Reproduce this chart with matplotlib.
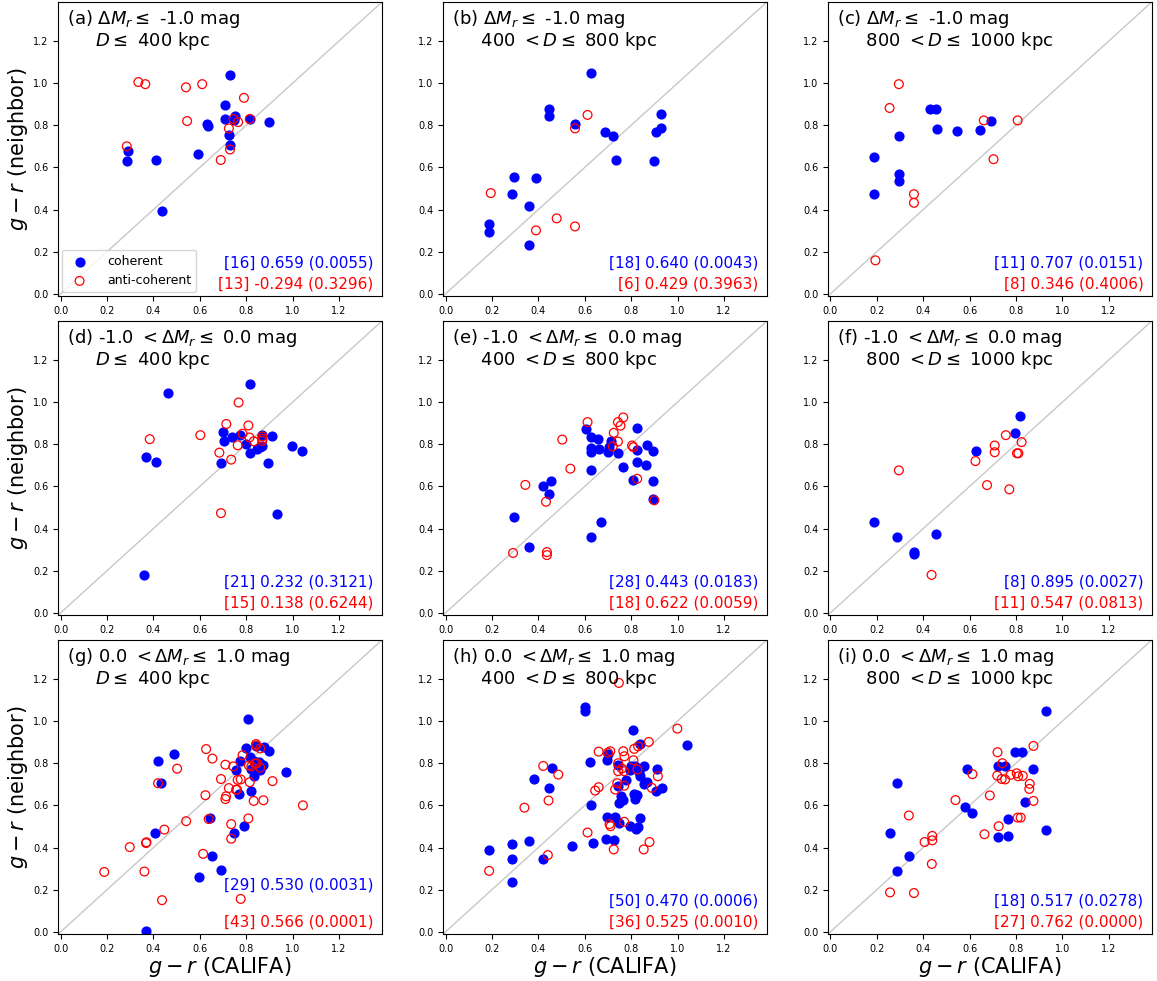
import matplotlib
matplotlib.use('Agg')
import matplotlib.pyplot as plt
import numpy as np

# g-r colour pairs (CALIFA, neighbor), one list per panel and class
a_coh = [(0.73, 1.04), (0.71, 0.895), (0.71, 0.83), (0.75, 0.845), (0.745, 0.825),
         (0.815, 0.83), (0.90, 0.815), (0.63, 0.805), (0.635, 0.795), (0.725, 0.755),
         (0.73, 0.705), (0.59, 0.665), (0.29, 0.68), (0.285, 0.63), (0.41, 0.635),
         (0.435, 0.395)]
a_anti = [(0.335, 1.005), (0.365, 0.995), (0.54, 0.98), (0.61, 0.995), (0.79, 0.93),
          (0.545, 0.82), (0.745, 0.83), (0.765, 0.815), (0.815, 0.83), (0.725, 0.785),
          (0.73, 0.685), (0.69, 0.635), (0.285, 0.70)]

b_coh = [(0.625, 1.049), (0.444, 0.877), (0.447, 0.846), (0.559, 0.804), (0.688, 0.767),
         (0.72, 0.747), (0.734, 0.637), (0.897, 0.631), (0.93, 0.855), (0.93, 0.788),
         (0.907, 0.767), (0.295, 0.556), (0.39, 0.548), (0.287, 0.476), (0.361, 0.417),
         (0.188, 0.333), (0.186, 0.293), (0.361, 0.231)]
b_anti = [(0.612, 0.849), (0.558, 0.785), (0.195, 0.478), (0.479, 0.358), (0.39, 0.301),
          (0.558, 0.32)]

c_coh = [(0.43, 0.879), (0.455, 0.876), (0.459, 0.78), (0.545, 0.771), (0.645, 0.779),
         (0.691, 0.82), (0.295, 0.748), (0.186, 0.651), (0.295, 0.567), (0.295, 0.537),
         (0.186, 0.475)]
c_anti = [(0.295, 0.995), (0.255, 0.882), (0.661, 0.823), (0.807, 0.823), (0.703, 0.639),
          (0.36, 0.473), (0.36, 0.432), (0.194, 0.159)]

d_coh = [(0.814, 1.088), (0.462, 1.041), (0.368, 0.738), (0.409, 0.714), (0.361, 0.18),
         (0.70, 0.859), (0.705, 0.816), (0.691, 0.711), (0.738, 0.832), (0.771, 0.846),
         (0.799, 0.803), (0.814, 0.759), (0.913, 0.84), (0.869, 0.846), (0.869, 0.79),
         (0.846, 0.778), (0.895, 0.712), (0.999, 0.79), (1.041, 0.767), (0.932, 0.469),
         (0.86, 0.785)]
d_anti = [(0.767, 0.998), (0.714, 0.896), (0.809, 0.889), (0.602, 0.843), (0.384, 0.824),
          (0.784, 0.85), (0.814, 0.832), (0.832, 0.814), (0.869, 0.837), (0.869, 0.816),
          (0.763, 0.795), (0.684, 0.76), (0.735, 0.727), (0.691, 0.473), (0.87, 0.826)]

e_coh = [(0.606, 0.873), (0.625, 0.833), (0.659, 0.827), (0.625, 0.781), (0.625, 0.765),
         (0.662, 0.776), (0.625, 0.677), (0.711, 0.813), (0.705, 0.789), (0.70, 0.763),
         (0.743, 0.759), (0.766, 0.693), (0.826, 0.878), (0.826, 0.773), (0.826, 0.714),
         (0.809, 0.628), (0.87, 0.794), (0.863, 0.70), (0.896, 0.768), (0.896, 0.625),
         (0.896, 0.542), (0.421, 0.604), (0.456, 0.625), (0.444, 0.563), (0.295, 0.456),
         (0.361, 0.312), (0.628, 0.362), (0.671, 0.432)]
e_anti = [(0.612, 0.905), (0.743, 0.905), (0.766, 0.927), (0.754, 0.888), (0.725, 0.854),
          (0.743, 0.813), (0.721, 0.79), (0.804, 0.794), (0.809, 0.786), (0.503, 0.822),
          (0.538, 0.684), (0.344, 0.607), (0.433, 0.527), (0.291, 0.284), (0.437, 0.288),
          (0.437, 0.274), (0.826, 0.636), (0.90, 0.534)]

f_coh = [(0.819, 0.932), (0.796, 0.853), (0.627, 0.77), (0.186, 0.429), (0.287, 0.36),
         (0.457, 0.373), (0.36, 0.287), (0.36, 0.277)]
f_anti = [(0.756, 0.843), (0.824, 0.81), (0.708, 0.794), (0.708, 0.762), (0.804, 0.757),
          (0.81, 0.757), (0.625, 0.72), (0.675, 0.606), (0.771, 0.586), (0.295, 0.676),
          (0.436, 0.18)]

g_coh = [(0.809, 1.012), (0.799, 0.872), (0.843, 0.884), (0.877, 0.876), (0.899, 0.86),
         (0.774, 0.811), (0.814, 0.83), (0.832, 0.811), (0.853, 0.806), (0.846, 0.782),
         (0.82, 0.774), (0.832, 0.739), (0.757, 0.768), (0.768, 0.654), (0.819, 0.67),
         (0.972, 0.76), (0.419, 0.812), (0.487, 0.844), (0.434, 0.705), (0.407, 0.468),
         (0.642, 0.541), (0.654, 0.361), (0.691, 0.295), (0.598, 0.26), (0.746, 0.471),
         (0.789, 0.50), (0.368, 0.002), (0.874, 0.793), (0.86, 0.77)]
g_anti = [(0.627, 0.867), (0.654, 0.822), (0.502, 0.774), (0.42, 0.705), (0.71, 0.793),
          (0.744, 0.785), (0.784, 0.838), (0.842, 0.891), (0.842, 0.884), (0.86, 0.87),
          (0.811, 0.79), (0.837, 0.798), (0.86, 0.779), (0.822, 0.785), (0.691, 0.725),
          (0.763, 0.721), (0.776, 0.723), (0.815, 0.71), (0.913, 0.715), (0.725, 0.682),
          (0.756, 0.674), (0.624, 0.648), (0.713, 0.643), (0.71, 0.63), (0.832, 0.621),
          (0.874, 0.624), (1.044, 0.60), (0.638, 0.535), (0.809, 0.538), (0.541, 0.525),
          (0.447, 0.485), (0.735, 0.511), (0.735, 0.442), (0.298, 0.402), (0.37, 0.425),
          (0.368, 0.421), (0.188, 0.284), (0.361, 0.286), (0.614, 0.37), (0.437, 0.15),
          (0.776, 0.156), (0.845, 0.80), (0.76, 0.675)]

h_coh = [(0.602, 1.065), (0.602, 1.046), (0.809, 0.958), (0.84, 0.891), (1.042, 0.885),
         (0.70, 0.846), (0.694, 0.816), (0.624, 0.808), (0.743, 0.79), (0.799, 0.785),
         (0.796, 0.766), (0.829, 0.772), (0.854, 0.787), (0.91, 0.774), (0.837, 0.74),
         (0.776, 0.718), (0.857, 0.70), (0.87, 0.71), (0.743, 0.694), (0.909, 0.669),
         (0.932, 0.68), (0.811, 0.654), (0.827, 0.647), (0.817, 0.63), (0.756, 0.643),
         (0.763, 0.626), (0.746, 0.612), (0.629, 0.603), (0.694, 0.546), (0.731, 0.547),
         (0.746, 0.517), (0.84, 0.539), (0.794, 0.501), (0.82, 0.488), (0.829, 0.498),
         (0.691, 0.442), (0.727, 0.436), (0.635, 0.42), (0.543, 0.409), (0.383, 0.723),
         (0.457, 0.776), (0.446, 0.684), (0.361, 0.433), (0.287, 0.418), (0.287, 0.346),
         (0.287, 0.236), (0.188, 0.388), (0.421, 0.347), (0.835, 0.76), (0.815, 0.785)]
h_anti = [(0.747, 1.181), (0.999, 0.964), (0.876, 0.901), (0.813, 0.868), (0.766, 0.857),
          (0.66, 0.855), (0.71, 0.857), (0.771, 0.833), (0.81, 0.814), (0.744, 0.80),
          (0.744, 0.762), (0.77, 0.762), (0.915, 0.738), (0.74, 0.705), (0.77, 0.693),
          (0.731, 0.675), (0.889, 0.683), (0.66, 0.686), (0.645, 0.67), (0.34, 0.589),
          (0.421, 0.787), (0.486, 0.746), (0.444, 0.623), (0.441, 0.364), (0.188, 0.289),
          (0.612, 0.471), (0.707, 0.511), (0.711, 0.501), (0.77, 0.522), (0.725, 0.391),
          (0.854, 0.391), (0.879, 0.426), (0.827, 0.77), (0.76, 0.775), (0.70, 0.85),
          (0.83, 0.88)]

i_coh = [(0.93, 1.049), (0.794, 0.851), (0.826, 0.852), (0.723, 0.787), (0.753, 0.785),
         (0.588, 0.774), (0.873, 0.772), (0.285, 0.705), (0.84, 0.617), (0.582, 0.594),
         (0.609, 0.565), (0.764, 0.533), (0.93, 0.482), (0.723, 0.45), (0.764, 0.455),
         (0.257, 0.468), (0.338, 0.361), (0.287, 0.289)]
i_anti = [(0.875, 0.882), (0.72, 0.852), (0.741, 0.80), (0.612, 0.748), (0.719, 0.741),
          (0.738, 0.725), (0.753, 0.723), (0.777, 0.745), (0.803, 0.752), (0.809, 0.738),
          (0.829, 0.74), (0.859, 0.702), (0.857, 0.678), (0.875, 0.621), (0.687, 0.647),
          (0.539, 0.625), (0.338, 0.552), (0.439, 0.455), (0.439, 0.434), (0.406, 0.426),
          (0.437, 0.322), (0.257, 0.187), (0.36, 0.184), (0.664, 0.463), (0.725, 0.501),
          (0.807, 0.542), (0.82, 0.542)]

coh_sets = [a_coh, b_coh, c_coh, d_coh, e_coh, f_coh, g_coh, h_coh, i_coh]
anti_sets = [a_anti, b_anti, c_anti, d_anti, e_anti, f_anti, g_anti, h_anti, i_anti]

# [N] r (p) printed in each panel
coh_stats = ['[16] 0.659 (0.0055)', '[18] 0.640 (0.0043)', '[11] 0.707 (0.0151)',
             '[21] 0.232 (0.3121)', '[28] 0.443 (0.0183)', '[8] 0.895 (0.0027)',
             '[29] 0.530 (0.0031)', '[50] 0.470 (0.0006)', '[18] 0.517 (0.0278)']
anti_stats = ['[13] -0.294 (0.3296)', '[6] 0.429 (0.3963)', '[8] 0.346 (0.4006)',
              '[15] 0.138 (0.6244)', '[18] 0.622 (0.0059)', '[11] 0.547 (0.0813)',
              '[43] 0.566 (0.0001)', '[36] 0.525 (0.0010)', '[27] 0.762 (0.0000)']

letters = ['a', 'b', 'c', 'd', 'e', 'f', 'g', 'h', 'i']
dm_labels = [r'$\Delta M_r \leq$ -1.0 mag',
             r'-1.0 $< \Delta M_r \leq$ 0.0 mag',
             r'0.0 $< \Delta M_r \leq$ 1.0 mag']
d_labels = [r'$D \leq$ 400 kpc',
            r'400 $< D \leq$ 800 kpc',
            r'800 $< D \leq$ 1000 kpc']

lim = (-0.01, 1.385)

fig, axes = plt.subplots(3, 3, figsize=(11.57, 9.81), dpi=100)
plt.subplots_adjust(left=0.0504, right=0.9955, bottom=0.048, top=0.998,
                    wspace=0.189, hspace=0.085)

for k, ax in enumerate(axes.flat):
    row, col = k // 3, k % 3
    coh = np.array(coh_sets[k])
    anti = np.array(anti_sets[k])
    ax.plot(lim, lim, color='#c8c8c8', lw=1, zorder=1)
    ax.scatter(coh[:, 0], coh[:, 1], s=40, color='blue', zorder=2, label='coherent')
    ax.scatter(anti[:, 0], anti[:, 1], s=40, facecolors='none', edgecolors='red',
               linewidths=0.9, zorder=3, label='anti-coherent')
    ax.set_xlim(lim)
    ax.set_ylim(lim)
    ax.set_xticks(np.arange(0, 1.21, 0.2))
    ax.set_yticks(np.arange(0, 1.21, 0.2))
    ax.tick_params(labelsize=7, length=3.5)
    title = '(%s) %s\n     %s' % (letters[k], dm_labels[row], d_labels[col])
    ax.text(0.026, 0.978, title, transform=ax.transAxes, ha='left', va='top',
            fontsize=13, linespacing=1.0)
    yb = 0.166 if k == 6 else 0.112
    ax.text(0.974, yb, coh_stats[k], transform=ax.transAxes, ha='right',
            va='center', color='blue', fontsize=11)
    ax.text(0.974, 0.042, anti_stats[k], transform=ax.transAxes, ha='right',
            va='center', color='red', fontsize=11)
    if col == 0:
        ax.set_ylabel(r'$g-r$ (neighbor)', fontsize=15, labelpad=2)
    if row == 2:
        ax.set_xlabel(r'$g-r$ (CALIFA)', fontsize=15, labelpad=1)
    if k == 0:
        ax.legend(loc='lower left', fontsize=9, borderaxespad=0.3, handletextpad=1.2)

fig.savefig('out.png', dpi=100)
